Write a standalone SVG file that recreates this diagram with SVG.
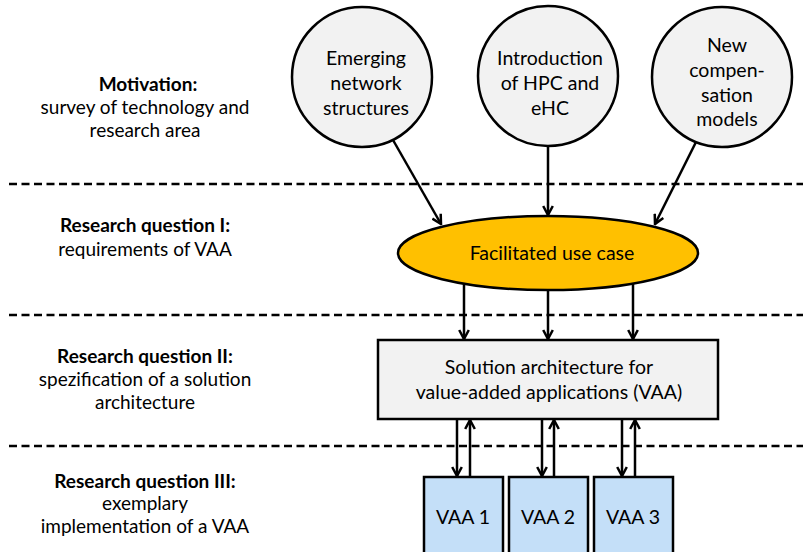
<svg xmlns="http://www.w3.org/2000/svg" width="803" height="552" viewBox="0 0 803 552">
<style>
text{font-family:Lato,"Open Sans",sans-serif;fill:#000}
.n{font-size:19.5px;text-anchor:middle}
.l{font-size:19px;text-anchor:middle}
.b{font-weight:bold}
.sep{stroke:#000;stroke-width:2.5;stroke-dasharray:8 4.5;fill:none}
.c{stroke:#000;stroke-width:2.5;fill:none;marker-end:url(#ah)}
</style>
<defs>
<marker id="ah" viewBox="0 0 12 12" refX="10.5" refY="6" markerWidth="12" markerHeight="12" markerUnits="userSpaceOnUse" orient="auto">
<path d="M1.5,1.2 L10.5,6 L1.5,10.8" fill="none" stroke="#000" stroke-width="2.5"/>
</marker>
</defs>
<rect width="803" height="552" fill="#fff"/>
<g id="separators">
<line class="sep" x1="9" y1="184" x2="803" y2="184"/>
<line class="sep" x1="9" y1="315" x2="803" y2="315"/>
<line class="sep" x1="9" y1="446" x2="803" y2="446"/>
</g>
<g id="labels">
<text class="l"><tspan class="b" x="148" y="91">Motivation:</tspan><tspan x="145" y="114">survey of technology and</tspan><tspan x="145" y="137">research area</tspan></text>
<text class="l"><tspan class="b" x="145" y="232">Research question I:</tspan><tspan x="145" y="256">requirements of VAA</tspan></text>
<text class="l"><tspan class="b" x="145" y="363">Research question II:</tspan><tspan x="145" y="386">spezification of a solution</tspan><tspan x="145" y="409">architecture</tspan></text>
<text class="l"><tspan class="b" x="145" y="488">Research question III:</tspan><tspan x="145" y="510">exemplary</tspan><tspan x="145" y="533">implementation of a VAA</tspan></text>
</g>
<g id="connectors">
<line class="c" x1="393" y1="140" x2="441" y2="224"/>
<line class="c" x1="548" y1="147" x2="548" y2="215"/>
<line class="c" x1="697" y1="140" x2="655" y2="224"/>
<line class="c" x1="464" y1="284" x2="464" y2="339"/>
<line class="c" x1="548" y1="290" x2="548" y2="339"/>
<line class="c" x1="633" y1="284" x2="633" y2="339"/>
<line class="c" x1="457" y1="420" x2="457" y2="476"/>
<line class="c" x1="470" y1="476" x2="470" y2="420"/>
<line class="c" x1="542" y1="420" x2="542" y2="476"/>
<line class="c" x1="554" y1="476" x2="554" y2="420"/>
<line class="c" x1="622" y1="420" x2="622" y2="476"/>
<line class="c" x1="635" y1="476" x2="635" y2="420"/>
</g>
<g id="n-emerging">
<circle cx="362" cy="77" r="70" fill="#f2f2f2" stroke="#000" stroke-width="2.5"/>
<text class="n"><tspan x="366" y="65">Emerging</tspan><tspan x="366" y="90">network</tspan><tspan x="366" y="115">structures</tspan></text>
</g>
<g id="n-hpc">
<circle cx="548" cy="76" r="70" fill="#f2f2f2" stroke="#000" stroke-width="2.5"/>
<text class="n"><tspan x="550" y="65">Introduction</tspan><tspan x="550" y="90">of HPC and</tspan><tspan x="550" y="115">eHC</tspan></text>
</g>
<g id="n-comp">
<circle cx="722" cy="77" r="70" fill="#f2f2f2" stroke="#000" stroke-width="2.5"/>
<text class="n"><tspan x="727" y="52">New</tspan><tspan x="727" y="77">compen-</tspan><tspan x="727" y="102">sation</tspan><tspan x="727" y="126">models</tspan></text>
</g>
<g id="n-usecase">
<ellipse cx="548" cy="253" rx="150" ry="37" fill="#ffc000" stroke="#000" stroke-width="2.5"/>
<text class="n" x="552" y="260">Facilitated use case</text>
</g>
<g id="n-arch">
<rect x="378" y="340" width="340" height="79" fill="#f2f2f2" stroke="#000" stroke-width="2.5"/>
<text class="n"><tspan x="549" y="374">Solution architecture for</tspan><tspan x="549" y="399">value-added applications (VAA)</tspan></text>
</g>
<g id="n-vaa1">
<rect x="424" y="477" width="79" height="80" fill="#c4dff8" stroke="#000" stroke-width="2.5"/>
<text class="n" x="463" y="524">VAA 1</text>
</g>
<g id="n-vaa2">
<rect x="509" y="477" width="79" height="80" fill="#c4dff8" stroke="#000" stroke-width="2.5"/>
<text class="n" x="548" y="524">VAA 2</text>
</g>
<g id="n-vaa3">
<rect x="594" y="477" width="79" height="80" fill="#c4dff8" stroke="#000" stroke-width="2.5"/>
<text class="n" x="633" y="524">VAA 3</text>
</g>
</svg>
